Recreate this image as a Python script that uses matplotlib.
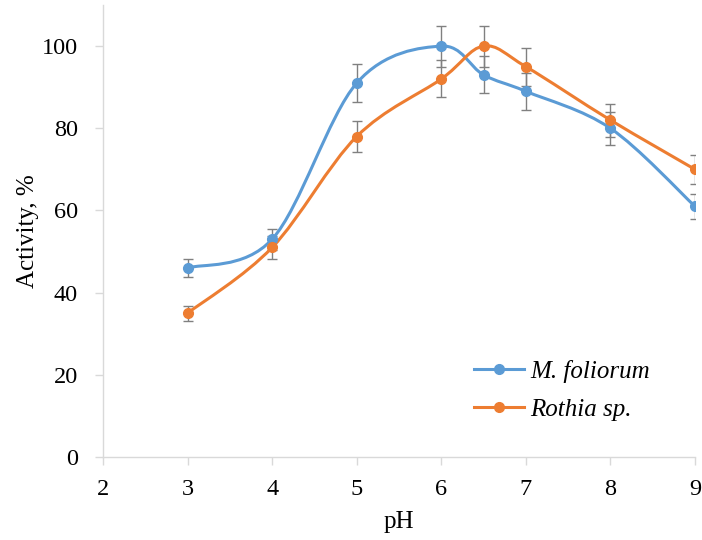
import numpy as np
import matplotlib
matplotlib.use("Agg")
import matplotlib.pyplot as plt
from matplotlib.path import Path
from matplotlib.patches import PathPatch
from matplotlib.lines import Line2D

ph = [3, 4, 5, 6, 6.5, 7, 8, 9]
m_foliorum = [46, 53, 91, 100, 93, 89, 80, 61]
m_foliorum_err = [2.3, 2.5, 4.6, 5.0, 4.5, 4.5, 4.0, 3.0]
rothia = [35, 51, 78, 92, 100, 95, 82, 70]
rothia_err = [1.8, 2.7, 3.8, 4.5, 5.0, 4.6, 4.0, 3.5]
labels = ["M. foliorum", "Rothia sp."]
colors = ["#5B9BD5", "#ED7D31"]

plt.rcParams['font.family'] = ['Liberation Serif', 'DejaVu Serif']

fig = plt.figure(figsize=(7.02, 5.40), dpi=100)
ax = fig.add_axes([0.1467, 0.1537, 0.990 - 0.1467, 0.9907 - 0.1537])


def smooth_path(ax, xs, ys, color):
    # Excel-style smoothed line: cubic Bezier with Catmull-Rom control points
    disp = ax.transData.transform(np.column_stack([xs, ys]))
    n = len(disp)
    verts = [disp[0]]
    codes = [Path.MOVETO]
    for i in range(n - 1):
        p0 = disp[i - 1] if i > 0 else disp[i]
        p1 = disp[i]
        p2 = disp[i + 1]
        p3 = disp[i + 2] if i + 2 < n else disp[i + 1]
        c1 = p1 + (p2 - p0) / 6.0
        c2 = p2 - (p3 - p1) / 6.0
        verts += [c1, c2, p2]
        codes += [Path.CURVE4] * 3
    path = Path(verts, codes)
    patch = PathPatch(path, facecolor='none', edgecolor=color, lw=2.2,
                      transform=None, zorder=3)
    ax.add_artist(patch)


ax.set_xlim(2, 9)
ax.set_ylim(0, 110)

for ys, errs, c in [(m_foliorum, m_foliorum_err, colors[0]), (rothia, rothia_err, colors[1])]:
    ax.errorbar(ph, ys, yerr=errs, fmt='none', ecolor='#808080', elinewidth=1.0,
                capsize=3.5, capthick=1.0, zorder=2)

for ys, c in [(m_foliorum, colors[0]), (rothia, colors[1])]:
    ax.plot(ph, ys, linestyle='none', marker='o', markersize=7, color=c, zorder=4)

fig.canvas.draw()
smooth_path(ax, ph, m_foliorum, colors[0])
smooth_path(ax, ph, rothia, colors[1])

ax.set_xticks(range(2, 10))
ax.set_yticks(range(0, 101, 20))
for s in ['top', 'right']:
    ax.spines[s].set_visible(False)
for s in ['left', 'bottom']:
    ax.spines[s].set_color('#d9d9d9')
    ax.spines[s].set_linewidth(1.0)
ax.tick_params(axis='both', colors='#d9d9d9', labelcolor='black', labelsize=17.5,
               length=6, width=1.0, direction='out')
ax.tick_params(axis='x', pad=10)
ax.tick_params(axis='y', pad=12)

ax.set_xlabel('pH', fontsize=18, labelpad=8)
ax.set_ylabel('Activity, %', fontsize=18, labelpad=2)

handles = [Line2D([], [], color=c, lw=2.2, marker='o', markersize=7) for c in colors]
leg = ax.legend(handles, labels, loc='upper left', bbox_to_anchor=(0.627, 0.215),
                frameon=False, prop={'style': 'italic', 'size': 18},
                handlelength=2.0, handletextpad=0.25, labelspacing=0.62,
                borderaxespad=0, borderpad=0)

fig.savefig('out.png', dpi=100)
